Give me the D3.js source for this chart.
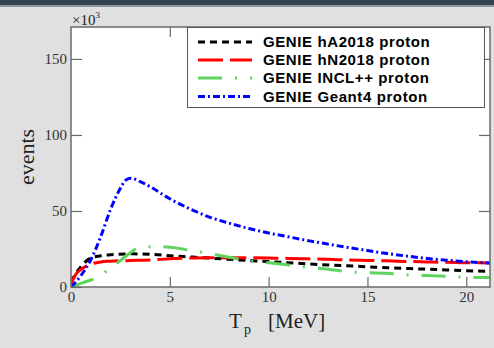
<!DOCTYPE html>
<html>
<head>
<meta charset="utf-8">
<script src="https://cdn.jsdelivr.net/npm/d3@7"></script>
<style>
  html, body { margin: 0; padding: 0; background: #e0e0e0; }
  svg { display: block; }
</style>
</head>
<body>
<div id="chart"></div>
<script>
// data (x in MeV, y in 10^3 events)
const hA2018 = [[0,3],[0.25,9],[0.5,13.4],[1,19],[1.5,20.5],[2,21.2],[3,21.8],[4,21.5],[5,20.6],[6,19.8],[7,19],[8,18.2],[9,17.4],[10,16.7],[11,16],[12,15.2],[13,14.5],[14,13.9],[15,13.3],[16,12.7],[17,12.2],[18,11.7],[19,11.2],[20,10.7],[21.2,10.3]];
const hN2018 = [[0,2],[0.25,8.5],[0.5,11.5],[1,15],[1.5,16.5],[2,17],[3,17.4],[4,17.8],[5,18.5],[6,19],[7,19.2],[8,19.3],[9,19.2],[10,19],[11,18.8],[12,18.5],[13,18.2],[14,17.8],[15,17.5],[16,17.2],[17,16.8],[18,16.5],[19,16.2],[20,16],[21.2,15.8]];
const inclpp = [[0,0],[0.5,2.4],[1,4.6],[1.35,6.3],[1.9,11.6],[2.44,16.8],[3,22.5],[3.45,26],[4.2,26.5],[5,26.2],[6,24.2],[7,22],[8,19.6],[9,17.2],[10,16],[11,14.5],[12,12.9],[13,11.7],[14,10.2],[15,9.4],[16,9],[17,8],[18,7.5],[19,7],[20,6.4],[21.2,6.2]];
const geant4 = [[0,0],[0.5,7.5],[1,17.8],[1.5,33],[2,51],[2.5,65],[2.78,70.4],[3.03,71.5],[3.5,69.3],[4,66],[5,58],[6,51.5],[7,46],[8,42],[9,38.5],[10,35.5],[11,33],[12,30.5],[13,28.2],[14,26],[15,24],[16,22],[17,20.3],[18,18.8],[19,17.6],[20,16.6],[21.2,15.8]];

const seriesNames = ["GENIE hA2018 proton", "GENIE hN2018 proton", "GENIE INCL++ proton", "GENIE Geant4 proton"];
const seriesData = [hA2018, hN2018, inclpp, geant4];
const seriesColors = ["#000000", "#ff0000", "#5fd35f", "#0000ff"];
const seriesDash = ["7,5", "25,7", "24,13,2,13", "7,3,2,3"];

const xTicks = [0, 5, 10, 15, 20];
const yTicks = [0, 50, 100, 150];

// 1: LAYOUT
const W = 494, H = 348;
const margin = { top: 27, right: 4, bottom: 61, left: 71 };
const width = W - margin.left - margin.right;
const height = H - margin.top - margin.bottom;

const svg = d3.select("#chart").append("svg")
	.attr("width", W)
	.attr("height", H);

// window title bar strip
svg.append("rect").attr("x", 0).attr("y", 0).attr("width", W).attr("height", 5).attr("fill", "#34444e");
svg.append("rect").attr("x", 0).attr("y", 5).attr("width", W).attr("height", 2).attr("fill", "#8b959b");

const g = svg.append("g")
	.attr("transform", `translate(${margin.left},${margin.top})`);

// 2: SCALES
const xScale = d3.scaleLinear().domain([0, 21.2]).range([0, width]);
const yScale = d3.scaleLinear().domain([0, 171]).range([height, 0]);

g.append("rect")
	.attr("width", width)
	.attr("height", height)
	.attr("fill", "#ffffff");

g.append("clipPath").attr("id", "clip")
	.append("rect").attr("width", width).attr("height", height);

// 3: LINES
const line = d3.line()
	.x(d => xScale(d[0]))
	.y(d => yScale(d[1]))
	.curve(d3.curveMonotoneX);

g.append("g").attr("clip-path", "url(#clip)")
	.selectAll("path")
	.data(seriesData)
	.enter()
	.append("path")
		.attr("d", d => line(d))
		.attr("fill", "none")
		.attr("stroke", (d, i) => seriesColors[i])
		.attr("stroke-width", 3)
		.attr("stroke-dasharray", (d, i) => seriesDash[i]);

// 4: AXES (ticks inside, on all four sides)
const axisColor = "#6a6a6a";
const tickFont = "'Liberation Serif', 'Times New Roman', serif";

const styleAxis = sel => {
	sel.attr("font-family", null).attr("font-size", null);
	sel.select(".domain").remove();
	sel.selectAll(".tick line").attr("stroke", axisColor).attr("stroke-width", 1.2);
	sel.selectAll(".tick text").attr("fill", "#333").style("font-family", tickFont).style("font-size", "15px");
};

g.append("g")
	.attr("transform", `translate(0,${height})`)
	.call(d3.axisBottom(xScale).tickValues(xTicks).tickSizeInner(-10).tickPadding(4).tickFormat(d3.format("d")))
	.call(styleAxis);

g.append("g")
	.call(d3.axisTop(xScale).tickValues(xTicks.slice(1)).tickSizeInner(-10).tickFormat(""))
	.call(styleAxis);

g.append("g")
	.call(d3.axisLeft(yScale).tickValues(yTicks).tickSizeInner(-11).tickPadding(4).tickFormat(d3.format("d")))
	.call(styleAxis);

g.append("g")
	.attr("transform", `translate(${width},0)`)
	.call(d3.axisRight(yScale).tickValues(yTicks.slice(1)).tickSizeInner(-11).tickFormat(""))
	.call(styleAxis);

g.append("rect")
	.attr("width", width)
	.attr("height", height)
	.attr("fill", "none")
	.attr("stroke", axisColor)
	.attr("stroke-width", 1.5);

// 5: LABELS
const xl = svg.append("g")
	.style("font-family", tickFont)
	.attr("fill", "#222");
xl.append("text").attr("x", 229).attr("y", 328).style("font-size", "21px").text("T");
xl.append("text").attr("x", 244).attr("y", 334).style("font-size", "14px").text("p");
xl.append("text").attr("x", 268).attr("y", 328).style("font-size", "21px").text("[MeV]");

svg.append("text")
	.attr("transform", "rotate(-90)")
	.attr("x", -157)
	.attr("y", 34)
	.attr("text-anchor", "middle")
	.style("font-family", tickFont)
	.style("font-size", "22px")
	.attr("fill", "#222")
	.text("events");

const mult = svg.append("text")
	.attr("x", 72)
	.attr("y", 25)
	.style("font-family", tickFont)
	.style("font-size", "15px")
	.attr("fill", "#222");
mult.append("tspan").text("×10");
mult.append("tspan").attr("dy", -7).style("font-size", "9px").text("3");

// 6: LEGEND
const legend = svg.append("g");
legend.append("rect")
	.attr("x", 187.5)
	.attr("y", 27.5)
	.attr("width", 297)
	.attr("height", 80)
	.attr("fill", "#ffffff")
	.attr("stroke", "#555")
	.attr("stroke-width", 1);

const rowY = [42, 60, 78, 96.5];
seriesNames.forEach((name, i) => {
	legend.append("line")
		.attr("x1", 198).attr("x2", 252)
		.attr("y1", rowY[i]).attr("y2", rowY[i])
		.attr("stroke", seriesColors[i])
		.attr("stroke-width", 3)
		.attr("stroke-dasharray", seriesDash[i]);
	legend.append("text")
		.attr("x", 263)
		.attr("y", rowY[i] + 5)
		.style("font-family", "'Liberation Sans', Arial, sans-serif")
		.style("font-weight", "bold")
		.style("font-size", "15px")
		.style("letter-spacing", "0.6px")
		.attr("fill", "#000")
		.text(name);
});
</script>
</body>
</html>
